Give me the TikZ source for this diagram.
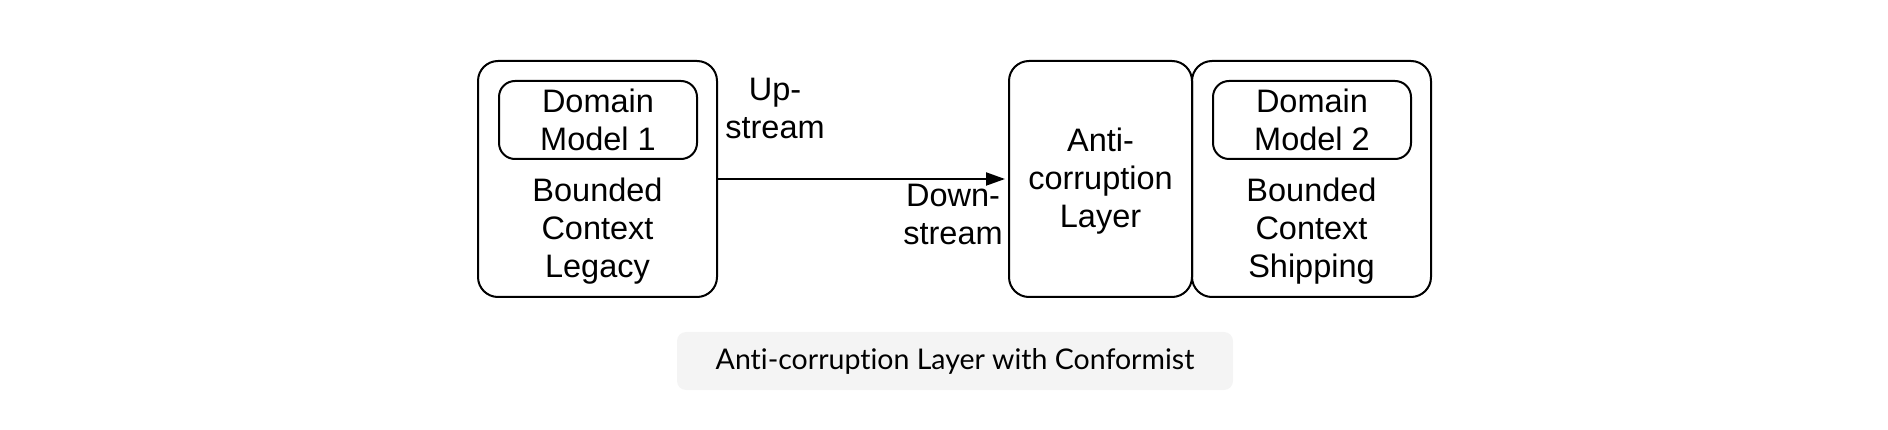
\documentclass[tikz,border=0pt]{standalone}
\usepackage{fontspec}
\setmainfont{Liberation Sans}
\newfontfamily\capfont[Ligatures=NoCommon]{Lato}
\usetikzlibrary{arrows.meta}
\definecolor{capfill}{HTML}{F4F4F4}
\tikzset{
  ctxbox/.style={draw=black, line width=2pt, rounded corners=20pt, inner sep=0pt},
  modelbox/.style={draw=black, line width=2pt, rounded corners=16pt, minimum width=198pt, minimum height=78pt, inner sep=0pt},
  lbl/.style={inner sep=0pt, align=center, font=\fontsize{32.5}{38}\selectfont},
  flow/.style={line width=2pt, -{Triangle[length=19pt,width=13pt]}, shorten >=3pt},
  capbox/.style={fill=capfill, rounded corners=9pt, minimum width=556pt, minimum height=58pt, inner sep=0pt, font=\capfont\fontsize{28.5}{34}\selectfont}
}
\begin{document}
\begin{tikzpicture}[x=1pt,y=-1pt]
\useasboundingbox (0,0) rectangle (1888,430);
% bounded context legacy
\node[ctxbox, minimum width=239pt, minimum height=236pt] (legacy) at (597.5,179) {};
\node[modelbox] (dm1) at (598,120) {};
\node[lbl] (dm1lbl) at (598,120) {Domain\\Model 1};
\node[lbl] (legacylbl) at (597.5,231) {Bounded\\Context\\Legacy};
% anti-corruption layer
\node[ctxbox, minimum width=183pt, minimum height=236pt] (acl) at (1100.5,179) {};
\node[lbl] (acllbl) at (1100.5,181) {Anti-\\corruption\\Layer};
% bounded context shipping
\node[ctxbox, minimum width=239pt, minimum height=236pt] (ship) at (1311.5,179) {};
\node[modelbox] (dm2) at (1312,120) {};
\node[lbl] (dm2lbl) at (1312,120) {Domain\\Model 2};
\node[lbl] (shiplbl) at (1311.5,231) {Bounded\\Context\\Shipping};
% connector
\draw[flow] (legacy.east) -- (acl.west);
\node[lbl] (up) at (775,108.5) {Up-\\stream};
\node[lbl] (down) at (953,214.5) {Down-\\stream};
% caption
\node[capbox] (cap) at (955,361) {Anti-corruption Layer with Conformist};
\end{tikzpicture}
\end{document}
